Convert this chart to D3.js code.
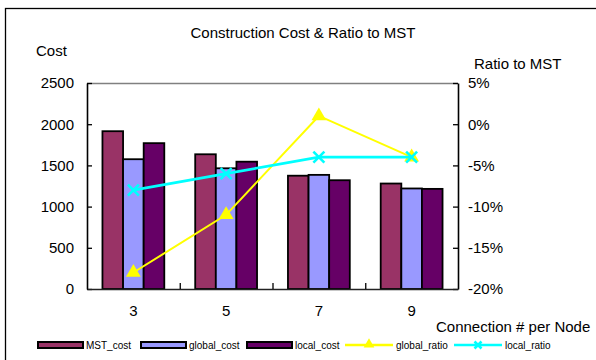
<!DOCTYPE html>
<html>
<head>
<meta charset="utf-8">
<script src="https://cdn.jsdelivr.net/npm/d3@7"></script>
<style>
  html, body { margin: 0; padding: 0; background: #fff; }
  svg { display: block; font-family: Arial, "Liberation Sans", sans-serif; }
</style>
</head>
<body>
<svg id="chart" width="596" height="360"></svg>
<script>
// Connections per node
const categories = ["3", "5", "7", "9"];

// Construction cost per scheme
const mstCost    = [1915, 1635, 1375, 1280];
const globalCost = [1575, 1465, 1385, 1220];
const localCost  = [1770, 1545, 1320, 1215];

// Cost ratio to MST, in percent
const globalRatio = [-18, -11, 1, -4];
const localRatio  = [-8, -6, -4, -4];

const costTicks  = [0, 500, 1000, 1500, 2000, 2500];
const ratioTicks = [-20, -15, -10, -5, 0, 5];

const barSeries = [
  { name: "MST_cost",    values: mstCost,    color: "#993366" },
  { name: "global_cost", values: globalCost, color: "#9999FF" },
  { name: "local_cost",  values: localCost,  color: "#660066" }
];
const lineSeries = [
  { name: "global_ratio", values: globalRatio, color: "#FFFF00", marker: "triangle" },
  { name: "local_ratio",  values: localRatio,  color: "#00FFFF", marker: "cross" }
];

const svg = d3.select("#chart");
const plot = { left: 87, right: 458, top: 83, bottom: 289 };

// outer chart frame
svg.append("rect")
  .attr("x", 5.5).attr("y", 8.5)
  .attr("width", 700).attr("height", 400)
  .attr("fill", "#fff").attr("stroke", "#000").attr("stroke-width", 1.3);

const x = d3.scaleBand().domain(categories).range([plot.left, plot.right]);
const xInner = d3.scaleBand().domain(barSeries.map(s => s.name))
  .range([0, x.bandwidth()]).paddingInner(0).paddingOuter(0.75);
const yCost = d3.scaleLinear().domain([0, 2500]).range([plot.bottom, plot.top]);
const yRatio = d3.scaleLinear().domain([-20, 5]).range([plot.bottom, plot.top]);

// plot area border (top edge)
svg.append("line")
  .attr("x1", plot.left).attr("x2", plot.right)
  .attr("y1", plot.top + 0.5).attr("y2", plot.top + 0.5)
  .attr("stroke", "#808080").attr("stroke-width", 1.3);

// bars
barSeries.forEach(s => {
  svg.append("g").selectAll("rect")
    .data(s.values)
    .join("rect")
    .attr("x", (d, i) => x(categories[i]) + xInner(s.name))
    .attr("y", d => yCost(d))
    .attr("width", xInner.bandwidth())
    .attr("height", d => yCost(0) - yCost(d))
    .attr("fill", s.color)
    .attr("stroke", "#000")
    .attr("stroke-width", 1.8);
});

// axes
const axisFont = "15px";
const leftAxis = svg.append("g")
  .attr("transform", `translate(${plot.left},0)`)
  .call(d3.axisLeft(yCost).tickValues(costTicks).tickSizeInner(-5).tickSizeOuter(0).tickPadding(13)
    .tickFormat(d3.format("d")));
const rightAxis = svg.append("g")
  .attr("transform", `translate(${plot.right},0)`)
  .call(d3.axisRight(yRatio).tickValues(ratioTicks).tickSizeInner(-5).tickSizeOuter(0).tickPadding(10)
    .tickFormat(d => d + "%"));
const bottomAxis = svg.append("g")
  .attr("transform", `translate(0,${plot.bottom})`)
  .call(d3.axisBottom(x).tickSize(0).tickPadding(16));

[leftAxis, rightAxis, bottomAxis].forEach(g => {
  g.select(".domain").attr("stroke", "#000").attr("stroke-width", 1.6);
  g.selectAll(".tick line").attr("stroke", "#000").attr("stroke-width", 1.3);
  g.selectAll("text").attr("fill", "#000").style("font-size", axisFont)
    .style("font-family", "Arial, 'Liberation Sans', sans-serif");
});
bottomAxis.select(".domain").attr("stroke", "#222");

// category boundary ticks on the bottom axis
svg.append("g").selectAll("line")
  .data(categories.slice(1))
  .join("line")
  .attr("x1", d => x(d) + 0.5).attr("x2", d => x(d) + 0.5)
  .attr("y1", plot.bottom).attr("y2", plot.bottom - 6)
  .attr("stroke", "#000").attr("stroke-width", 1.3);

// ratio lines and markers
const cx = i => x(categories[i]) + x.bandwidth() / 2;
const triangle = d3.symbol().type(d3.symbolTriangle).size(95);

lineSeries.forEach(s => {
  const line = d3.line().x((d, i) => cx(i)).y(d => yRatio(d));
  svg.append("path")
    .datum(s.values)
    .attr("d", line)
    .attr("fill", "none")
    .attr("stroke", s.color)
    .attr("stroke-width", s.marker === "cross" ? 2.6 : 2);
  const g = svg.append("g");
  s.values.forEach((d, i) => {
    const px = cx(i), py = yRatio(d);
    if (s.marker === "triangle") {
      g.append("path").attr("d", triangle)
        .attr("transform", `translate(${px},${py})`)
        .attr("fill", s.color);
    } else {
      const r = 5.5;
      g.append("path")
        .attr("d", `M${px - r},${py - r}L${px + r},${py + r}M${px - r},${py + r}L${px + r},${py - r}`)
        .attr("stroke", s.color).attr("stroke-width", 2.6).attr("fill", "none");
    }
  });
});

// titles
svg.append("text").attr("x", 303).attr("y", 38).attr("text-anchor", "middle")
  .style("font-size", "15px").text("Construction Cost & Ratio to MST");
svg.append("text").attr("x", 36).attr("y", 56)
  .style("font-size", "15px").text("Cost");
svg.append("text").attr("x", 474).attr("y", 69)
  .style("font-size", "15px").text("Ratio to MST");
svg.append("text").attr("x", 436).attr("y", 332)
  .style("font-size", "15px").text("Connection # per Node");

// legend
const legendY = 345;
const legendX = [38, 141, 247, 345, 454];
const legendItems = barSeries.map(s => ({ ...s, kind: "bar" }))
  .concat(lineSeries.map(s => ({ ...s, kind: "line" })));
const lg = svg.append("g");
legendItems.forEach((s, i) => {
  const lx = legendX[i];
  if (s.kind === "bar") {
    lg.append("rect").attr("x", lx).attr("y", legendY - 3)
      .attr("width", 45).attr("height", 6)
      .attr("fill", s.color).attr("stroke", "#000").attr("stroke-width", 2);
  } else {
    lg.append("line").attr("x1", lx).attr("x2", lx + 48)
      .attr("y1", legendY).attr("y2", legendY)
      .attr("stroke", s.color).attr("stroke-width", 2.6);
    if (s.marker === "triangle") {
      lg.append("path").attr("d", d3.symbol().type(d3.symbolTriangle).size(50))
        .attr("transform", `translate(${lx + 24},${legendY - 0.5})`).attr("fill", s.color);
    } else {
      const r = 3.5, px = lx + 24, py = legendY;
      lg.append("path")
        .attr("d", `M${px - r},${py - r}L${px + r},${py + r}M${px - r},${py + r}L${px + r},${py - r}`)
        .attr("stroke", s.color).attr("stroke-width", 2.6);
    }
  }
  lg.append("text").attr("x", lx + (s.kind === "bar" ? 48 : 51)).attr("y", legendY + 3.5)
    .style("font-size", "10px").text(s.name);
});
</script>
</body>
</html>
